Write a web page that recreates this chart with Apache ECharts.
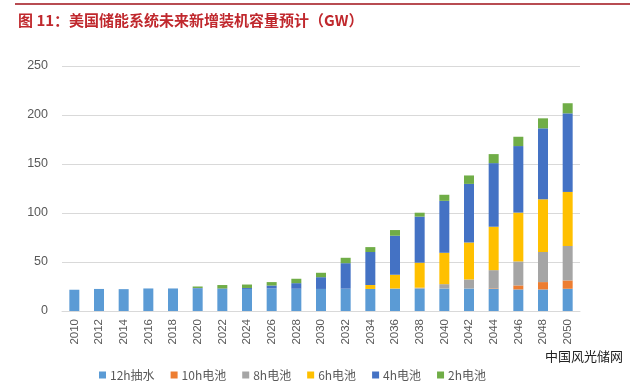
<!DOCTYPE html>
<html>
<head>
<meta charset="utf-8">
<script src="https://cdn.jsdelivr.net/npm/echarts@6/dist/echarts.min.js"></script>
<style>html,body{margin:0;padding:0;background:#fff;}#c{width:640px;height:391px;}</style>
</head>
<body>
<div id="c"></div>
<script>
var years = ['2010','2012','2014','2016','2018','2020','2022','2024','2026','2028','2030','2032','2034','2036','2038','2040','2042','2044','2046','2048','2050'];
var pumped12h = [21.7,22.5,22.3,23,23,23,22.5,22.5,23,22.7,22.5,22.8,22.5,22.5,22.8,22.9,22.9,22.7,22,22,22.7];
var bat10h   = [0,0,0,0,0,0,0,0,0,0,0,0,0,0,0,0,0,0.5,4.1,7.5,8.5];
var bat8h    = [0,0,0,0,0,0,0,0,0,0,0,0,0,0.5,1,4.5,9.3,18.5,24.5,30.7,35.1];
var bat6h    = [0,0,0,0,0,0,0,0,0,0,0,0,4,14,25.5,32,37.7,44.3,49.8,53.8,55.2];
var bat4h    = [0,0,0,0,0,0.5,0.5,1,3,5.7,12,26,33.7,39.8,47,53,59.8,64.9,67.9,72.4,80.2];
var bat2h    = [0,0,0,0,0,1.5,3.5,3.5,3.5,4.5,4.5,5.5,5,5.8,4,6.2,8.6,9.2,9.5,10.2,10.3];
var yTicks = [0,50,100,150,200,250];
var seriesNames = ['12h抽水','10h电池','8h电池','6h电池','4h电池','2h电池'];
var seriesData = [pumped12h, bat10h, bat8h, bat6h, bat4h, bat2h];
var colors = ['#5B9BD5','#ED7D31','#A5A5A5','#FFC000','#4472C4','#70AD47'];

var chart = echarts.init(document.getElementById('c'), null, {renderer:'canvas'});
var series = seriesNames.map(function(n,i){
  return {name:n,type:'bar',stack:'total',barWidth:10,data:seriesData[i],itemStyle:{color:colors[i]}};
});
chart.setOption({
  animation:false,
  color:colors,
  title:{
    text:'图 11：美国储能系统未来新增装机容量预计（GW）',
    left:13, top:8,
    textStyle:{color:'#C0282D',fontSize:15,fontWeight:'bold',fontFamily:'Noto Sans CJK SC'}
  },
  graphic:[
    {type:'line',shape:{x1:15,y1:4,x2:630,y2:4},style:{stroke:'#A01018',lineWidth:1.5}},
    {type:'text',left:545,top:350,style:{text:'中国风光储网',fill:'#222',font:'13px "Noto Sans CJK SC"'}}
  ],
  legend:{
    data:seriesNames,
    left:94, top:364,
    itemWidth:7, itemHeight:7, itemGap:16,
    icon:'rect',
    textStyle:{color:'#595959',fontSize:12,fontFamily:'Noto Sans CJK SC',padding:[0,0,0,-1]}
  },
  grid:{left:62,right:60,top:66,bottom:80,containLabel:false},
  xAxis:{
    type:'category',data:years,
    axisLine:{show:true,lineStyle:{color:'#D9D9D9'}},
    axisTick:{show:false},
    axisLabel:{rotate:90,interval:0,color:'#595959',fontSize:11.5,fontFamily:'Liberation Sans',margin:8}
  },
  yAxis:{
    type:'value',min:0,max:250,interval:50,
    axisLine:{show:false},axisTick:{show:false},
    splitLine:{lineStyle:{color:'#D9D9D9'}},
    axisLabel:{color:'#595959',fontSize:12.5,fontFamily:'Liberation Sans',margin:14}
  },
  series:series
});
</script>
</body>
</html>
